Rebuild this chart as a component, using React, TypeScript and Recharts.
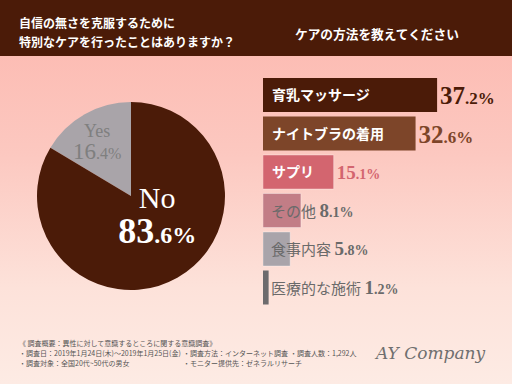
import { PieChart, Pie, Cell, BarChart, Bar, XAxis, YAxis } from 'recharts'

const pieNames = ['Yes', 'No']
const pieValues = [16.4, 83.6]
const pieColors = ['#a9a4a9', '#4b1b08']

const methods = ['育乳マッサージ', 'ナイトブラの着用', 'サプリ', 'その他', '食事内容', '医療的な施術']
const methodValues = [37.2, 32.6, 15.1, 8.1, 5.8, 1.2]
const barColors = ['#4b1b08', '#7d4529', '#d3656f', '#c27d86', '#a9a4aa', '#6d6b6d']
const valueColors = ['#4b1b08', '#7d4529', '#d3656f', '#6a6a6a', '#6a6a6a', '#6a6a6a']

const footLines = [
  '《 調査概要：異性に対して意識するところに関する意識調査》',
  '・調査日：2019年1月24日(木)～2019年1月25日(金)',
  '・調査対象：全国20代~50代の男女',
]
const footCol2 = ['・調査方法：インターネット調査', '・モニター提供先：ゼネラルリサーチ']
const footCol3 = '・調査人数：1,292人'

const pieData = pieNames.map((n, i) => ({ name: n, value: pieValues[i] }))
const barData = methods.map((m, i) => ({ name: m, value: methodValues[i] }))

const JP = '"Noto Sans CJK JP", sans-serif'
const SERIF = '"Liberation Serif", "DejaVu Serif", serif'
const RAD = Math.PI / 180

function splitNum(v: number) {
  const [a, b] = v.toFixed(1).split('.')
  return [a, '.' + b + '%']
}

function PieLabel(props: any) {
  const { cx, cy, midAngle, outerRadius, index } = props
  const shift = index === 0 ? 2 : 28
  const r = index === 0 ? outerRadius * 0.69 : outerRadius * 0.33
  const a = -(midAngle + shift) * RAD
  const x = cx + r * Math.cos(a)
  const y = cy + r * Math.sin(a)
  const [big, small] = splitNum(pieValues[index])
  if (index === 0) {
    return (
      <g fontFamily={SERIF} fill="#7f7f7f" textAnchor="middle">
        <text x={x} y={y - 4} fontSize={18}>{pieNames[index]}</text>
        <text x={x} y={y + 18}>
          <tspan fontSize={23}>{big}</tspan>
          <tspan fontSize={16}>{small}</tspan>
        </text>
      </g>
    )
  }
  return (
    <g fontFamily={SERIF} fill="#ffffff" textAnchor="middle">
      <text x={x} y={y - 5} fontSize={30}>{pieNames[index]}</text>
      <text x={x} y={y + 30} fontWeight="bold">
        <tspan fontSize={36}>{big}</tspan>
        <tspan fontSize={24}>{small}</tspan>
      </text>
    </g>
  )
}

function BarLabel(props: any) {
  const vb = props.viewBox || {}
  const x = props.x ?? vb.x
  const y = props.y ?? vb.y
  const width = props.width ?? vb.width
  const height = props.height ?? vb.height
  const index = props.index
  const mid = y + height / 2
  const [big, small] = splitNum(methodValues[index])
  if (index < 3) {
    const big1 = index < 2
    return (
      <g>
        <text x={x + 9} y={mid + 5} fill="#ffffff" fontSize={14} fontWeight="bold" fontFamily={JP}>
          {methods[index]}
        </text>
        <text x={x + width + 3} y={mid + (big1 ? 9 : 7)} fill={valueColors[index]} fontFamily={SERIF} fontWeight="bold">
          <tspan fontSize={big1 ? 25 : 19}>{big}</tspan>
          <tspan fontSize={big1 ? 17 : 14}>{small}</tspan>
        </text>
      </g>
    )
  }
  return (
    <text x={x + 8} y={mid + 6} fill="#6a6a6a">
      <tspan fontSize={15} fontFamily={JP}>{methods[index]} </tspan>
      <tspan fontSize={19} fontFamily={SERIF} fontWeight="bold">{big}</tspan>
      <tspan fontSize={14} fontFamily={SERIF} fontWeight="bold">{small}</tspan>
    </text>
  )
}

export default function App() {
  return (
    <div
      style={{
        position: 'absolute',
        left: 0,
        top: 0,
        width: 512,
        height: 384,
        overflow: 'hidden',
        background: 'linear-gradient(180deg, #fdb7ae 0%, #fcc8c0 40%, #fde2da 75%, #fdebe4 100%)',
        fontFamily: JP,
      }}
    >
      <div style={{ position: 'absolute', left: 0, top: 0, width: 512, height: 56, background: '#4b1b08' }} />
      <div style={{ position: 'absolute', left: 19, top: 13, color: '#fff', fontSize: 12, fontWeight: 700, lineHeight: '19px' }}>
        自信の無さを克服するために
        <br />
        特別なケアを行ったことはありますか？
      </div>
      <div style={{ position: 'absolute', left: 295, top: 24, color: '#fff', fontSize: 12.7, fontWeight: 700 }}>
        ケアの方法を教えてください
      </div>

      <div style={{ position: 'absolute', left: 6, top: 71 }}>
        <PieChart width={240} height={240}>
          <Pie
            data={pieData}
            dataKey="value"
            cx={120}
            cy={120}
            outerRadius={94}
            startAngle={90}
            endAngle={450}
            stroke="none"
            labelLine={false}
            label={PieLabel}
            isAnimationActive={false}
          >
            {pieData.map((d, i) => (
              <Cell key={d.name} fill={pieColors[i]} />
            ))}
          </Pie>
        </PieChart>
      </div>

      <div style={{ position: 'absolute', left: 263, top: 76 }}>
        <BarChart
          width={234}
          height={231}
          data={barData}
          layout="vertical"
          margin={{ top: 0, right: 0, bottom: 0, left: 0 }}
          style={{ overflow: 'visible' }}
        >
          <XAxis type="number" domain={[0, 50]} hide />
          <YAxis type="category" dataKey="name" hide />
          <Bar dataKey="value" barSize={34} label={BarLabel} isAnimationActive={false}>
            {barData.map((d, i) => (
              <Cell key={d.name} fill={barColors[i]} stroke={i >= 2 && i <= 4 ? 'rgba(255,255,255,0.35)' : 'none'} />
            ))}
          </Bar>
        </BarChart>
      </div>

      <div style={{ position: 'absolute', left: 19, top: 338, fontSize: 7, color: '#555', lineHeight: '10px', whiteSpace: 'nowrap' }}>
        {footLines.map(l => (
          <div key={l}>{l}</div>
        ))}
      </div>
      <div style={{ position: 'absolute', left: 183, top: 348, fontSize: 7, color: '#555', lineHeight: '10px', whiteSpace: 'nowrap' }}>
        {footCol2.map(l => (
          <div key={l}>{l}</div>
        ))}
      </div>
      <div style={{ position: 'absolute', left: 290, top: 348, fontSize: 7, color: '#555', lineHeight: '10px', whiteSpace: 'nowrap' }}>
        {footCol3}
      </div>
      <div
        style={{
          position: 'absolute',
          left: 376,
          top: 343,
          fontSize: 17,
          color: '#6f6f6f',
          fontStyle: 'italic',
          fontFamily: '"DejaVu Serif", serif',
          whiteSpace: 'nowrap',
        }}
      >
        AY Company
      </div>
    </div>
  )
}
